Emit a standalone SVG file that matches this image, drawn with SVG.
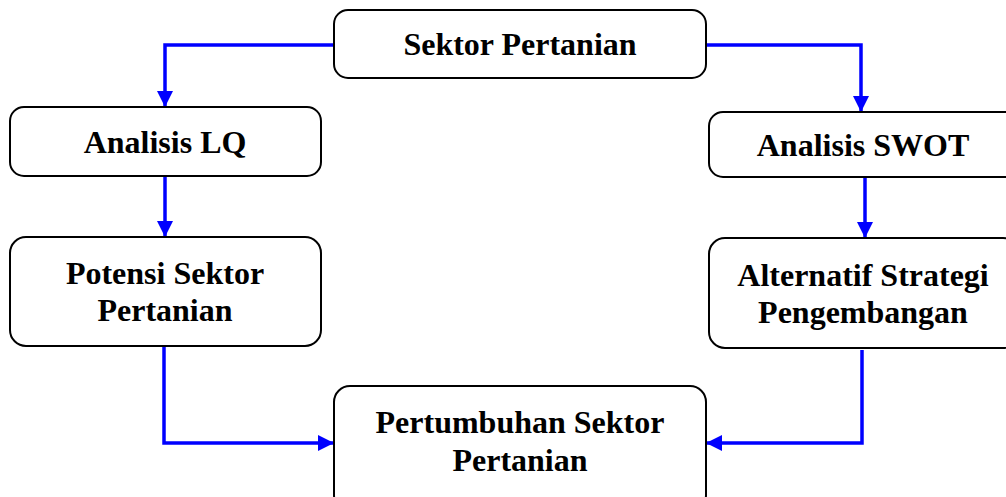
<svg xmlns="http://www.w3.org/2000/svg" width="1006" height="497" viewBox="0 0 1006 497">
<style>
.box{fill:#fff;stroke:#000;stroke-width:2}
.t{font-family:"Liberation Serif","Times New Roman",serif;font-weight:bold;font-size:32px;text-anchor:middle;fill:#000}
.c{fill:none;stroke:#0000ff;stroke-width:3.5}
</style>
<defs>
<marker id="ah" markerWidth="16" markerHeight="16" viewBox="0 0 16 16" refX="16" refY="8" orient="auto" markerUnits="userSpaceOnUse">
<path d="M0,0 L16,8 L0,16 z" fill="#0000ff"/>
</marker>
</defs>
<rect width="1006" height="497" fill="#fff"/>
<g id="connectors">
<path class="c" d="M334,45 H165 V107" marker-end="url(#ah)"/>
<path class="c" d="M706,45 H861 V112" marker-end="url(#ah)"/>
<path class="c" d="M165,177 V237" marker-end="url(#ah)"/>
<path class="c" d="M865,177 V238" marker-end="url(#ah)"/>
<path class="c" d="M164,346 V443 H334" marker-end="url(#ah)"/>
<path class="c" d="M862,350 V443 H706" marker-end="url(#ah)"/>
</g>
<g id="sektor">
<rect class="box" x="334" y="10" width="372" height="68" rx="14"/>
<text class="t" x="520" y="55">Sektor Pertanian</text>
</g>
<g id="lq">
<rect class="box" x="10" y="107" width="311" height="69" rx="14"/>
<text class="t" x="165" y="153">Analisis LQ</text>
</g>
<g id="potensi">
<rect class="box" x="10" y="237" width="311" height="109" rx="16"/>
<text class="t" x="165" y="284">Potensi Sektor</text>
<text class="t" x="165" y="321">Pertanian</text>
</g>
<g id="swot">
<rect class="box" x="709" y="112" width="310" height="65" rx="14"/>
<text class="t" x="863" y="156">Analisis SWOT</text>
</g>
<g id="alternatif">
<rect class="box" x="709" y="238" width="310" height="110" rx="16"/>
<text class="t" x="863" y="286">Alternatif Strategi</text>
<text class="t" x="863" y="323">Pengembangan</text>
</g>
<g id="pertumbuhan">
<rect class="box" x="334" y="386" width="372" height="125" rx="16"/>
<text class="t" x="520" y="433">Pertumbuhan Sektor</text>
<text class="t" x="520" y="471">Pertanian</text>
</g>
</svg>
